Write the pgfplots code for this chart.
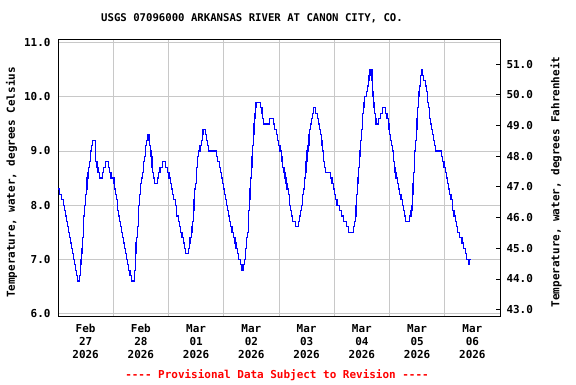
\documentclass[border=0pt]{standalone}
\usepackage{pgfplots}
\pgfplotsset{compat=1.18}
\usepackage{pgfplotstable}
\usepackage{fontspec}
\setmainfont{DejaVu Sans Mono}
\setmonofont{DejaVu Sans Mono}
\definecolor{usgsblue}{RGB}{0,0,255}
\definecolor{usgsred}{RGB}{255,0,0}
\definecolor{gridgray}{RGB}{200,200,200}
\pgfplotstableread{
h t
0 8.3
0.6 8.2
1.5 8.1
2.3 8.0
2.9 7.9
3.2 7.8
3.6 7.7
4.0 7.6
4.6 7.5
5.0 7.4
5.5 7.3
6.0 7.2
6.3 7.1
6.8 7.0
7.2 6.9
7.6 6.8
8.0 6.7
8.3 6.6
9.3 6.7
9.6 6.8
9.8 6.9
10.0 7.0
10.2 7.1
10.4 7.2
10.6 7.3
10.8 7.4
11.0 7.6
11.2 7.8
11.5 8.0
11.9 8.2
12.3 8.3
12.6 8.5
13.0 8.6
13.4 8.7
13.8 8.8
14.0 8.9
14.2 9.0
14.6 9.1
15.0 9.2
16.4 8.8
16.9 8.7
17.4 8.6
17.9 8.5
19.3 8.6
19.9 8.7
20.6 8.8
21.9 8.7
22.4 8.6
23.0 8.5
24.3 8.4
24.6 8.3
25.0 8.2
25.3 8.1
25.7 8.0
26.0 7.9
26.4 7.8
26.7 7.7
27.2 7.6
27.7 7.5
28.1 7.4
28.5 7.3
28.8 7.2
29.3 7.1
29.8 7.0
30.2 6.9
30.7 6.8
31.3 6.7
32.0 6.6
33.1 6.7
33.3 6.8
33.5 6.9
33.7 7.1
33.9 7.3
34.1 7.4
34.4 7.6
34.8 7.8
35.1 8.0
35.4 8.2
35.8 8.4
36.3 8.5
36.7 8.6
37.0 8.8
37.5 8.9
37.9 9.1
38.4 9.2
39.0 9.3
39.5 9.2
39.7 9.1
40.1 9.0
40.4 8.9
40.8 8.7
41.2 8.6
41.5 8.5
41.8 8.4
43.1 8.5
43.7 8.6
44.3 8.7
45.3 8.8
46.7 8.7
47.7 8.6
48.2 8.5
48.7 8.4
49.2 8.3
49.7 8.2
50.2 8.1
50.9 8.0
51.3 7.9
51.6 7.8
52.3 7.7
52.7 7.6
53.3 7.5
53.9 7.4
54.5 7.3
55.0 7.2
55.5 7.1
56.7 7.2
57.0 7.3
57.3 7.4
58.0 7.5
58.2 7.6
58.5 7.7
58.8 7.9
59.1 8.1
59.4 8.3
59.7 8.4
60.0 8.5
60.3 8.7
60.7 8.9
61.1 9.0
61.7 9.1
62.3 9.2
62.6 9.3
63.0 9.4
64.2 9.3
64.5 9.2
64.9 9.1
65.3 9.0
68.8 8.9
69.4 8.8
70.0 8.7
70.6 8.6
71.0 8.5
71.3 8.4
71.8 8.3
72.3 8.2
72.7 8.1
73.2 8.0
73.6 7.9
74.0 7.8
74.6 7.7
75.1 7.6
75.6 7.5
76.3 7.4
76.9 7.3
77.3 7.2
77.9 7.1
78.5 7.0
79.1 6.9
79.8 6.8
80.4 6.9
81.0 7.0
81.3 7.1
81.6 7.2
82.0 7.4
82.3 7.5
82.6 7.7
82.8 7.9
83.1 8.1
83.4 8.3
83.7 8.5
84.0 8.7
84.3 8.9
84.6 9.1
84.9 9.3
85.1 9.5
85.4 9.6
85.6 9.7
85.8 9.8
86.0 9.9
88.1 9.8
88.6 9.7
88.9 9.6
89.4 9.5
91.9 9.6
93.5 9.5
94.1 9.4
94.8 9.3
95.4 9.2
95.9 9.1
96.4 9.0
97.0 8.9
97.3 8.8
97.6 8.7
98.2 8.6
98.6 8.5
99.0 8.4
99.5 8.3
100.1 8.2
100.4 8.1
100.7 8.0
101.1 7.9
101.5 7.8
102.0 7.7
103.0 7.6
104.4 7.7
104.8 7.8
105.3 7.9
105.8 8.0
106.2 8.2
106.6 8.3
107.0 8.5
107.4 8.6
107.7 8.8
108.2 9.0
108.6 9.1
109.0 9.3
109.4 9.4
109.7 9.5
110.0 9.6
110.5 9.7
110.9 9.8
112.0 9.7
112.8 9.6
113.3 9.5
113.7 9.4
114.0 9.3
114.3 9.2
114.7 9.1
115.0 9.0
115.2 8.9
115.4 8.8
115.8 8.7
116.3 8.6
118.5 8.5
119.0 8.4
119.5 8.3
120.1 8.2
120.7 8.1
121.2 8.0
122.2 7.9
123.0 7.8
124.1 7.7
125.2 7.6
126.3 7.5
128.4 7.6
128.8 7.7
129.1 7.8
129.4 8.0
129.7 8.2
130.0 8.4
130.3 8.5
130.6 8.7
130.9 8.9
131.2 9.0
131.5 9.2
131.8 9.4
132.1 9.5
132.4 9.7
132.7 9.8
132.9 9.9
133.3 10.0
134.0 10.1
134.3 10.2
134.7 10.3
135.1 10.4
135.5 10.5
136.4 10.3
136.6 10.1
136.8 10.0
137.0 9.9
137.3 9.8
137.6 9.7
137.9 9.6
138.1 9.5
139.1 9.6
140.2 9.7
140.8 9.8
142.3 9.7
142.9 9.6
143.4 9.5
143.8 9.4
144.1 9.3
144.4 9.2
144.7 9.1
145.2 9.0
145.6 8.9
145.9 8.8
146.1 8.7
146.4 8.6
146.8 8.5
147.3 8.4
148.0 8.3
148.4 8.2
149.0 8.1
149.5 8.0
150.0 7.9
150.4 7.8
151.0 7.7
152.8 7.8
153.3 7.9
153.8 8.0
154.0 8.2
154.2 8.4
154.4 8.6
154.7 8.8
155.0 9.0
155.3 9.2
155.6 9.4
155.9 9.6
156.1 9.8
156.5 10.0
156.8 10.1
157.1 10.2
157.3 10.3
157.5 10.4
157.9 10.5
158.2 10.4
158.9 10.3
159.5 10.2
160.0 10.1
160.4 10.0
160.6 9.9
160.9 9.8
161.2 9.7
161.5 9.6
161.8 9.5
162.1 9.4
162.5 9.3
163.0 9.2
163.6 9.1
164.1 9.0
166.6 8.9
167.1 8.8
167.7 8.7
168.3 8.6
168.8 8.5
169.3 8.4
169.7 8.3
170.2 8.2
170.7 8.1
171.2 8.0
171.5 7.9
172.0 7.8
172.6 7.7
173.0 7.6
173.6 7.5
174.5 7.4
175.5 7.3
176.3 7.2
176.9 7.1
177.6 7.0
178.4 6.9
178.8 7.0
179.1 7.0
}\tempdata
\begin{document}
\begin{tikzpicture}[x=1bp,y=1bp]
\useasboundingbox (0,0) rectangle (576,384);
\begin{axis}[
  at={(58bp,68bp)}, anchor=south west,
  scale only axis, width=442bp, height=276.5bp,
  xmin=0, xmax=192, ymin=5.952, ymax=11.06,
  axis line style={black, line width=0.9bp},
  xtick={12,36,60,84,108,132,156,180},
  xticklabels={{Feb\\27\\2026},{Feb\\28\\2026},{Mar\\01\\2026},{Mar\\02\\2026},{Mar\\03\\2026},{Mar\\04\\2026},{Mar\\05\\2026},{Mar\\06\\2026}},
  minor xtick={24,48,72,96,120,144,168},
  xminorgrids=true, xmajorgrids=false, ymajorgrids=true,
  grid style={gridgray, line width=0.8bp},
  minor grid style={gridgray, line width=0.8bp},
  major tick length=0pt, minor tick length=0pt,
  ytick={6,7,8,9,10,11},
  /pgf/number format/fixed, /pgf/number format/fixed zerofill, /pgf/number format/precision=1,
  /pgf/number format/assume math mode=true,
  yticklabel style={font=\fontsize{11}{13}\selectfont\bfseries, xshift=-4bp},
  xticklabel style={font=\fontsize{11}{13}\selectfont\bfseries, align=center, yshift=-5bp},
  clip=true,
]
\addplot[const plot, color=usgsblue, line width=1.2bp] table[x=h, y=t] {\tempdata};
\end{axis}
\begin{axis}[
  at={(58bp,68bp)}, anchor=south west,
  scale only axis, width=442bp, height=276.5bp,
  xmin=0, xmax=192, ymin=42.795, ymax=51.80,
  hide x axis, axis y line*=right,
  axis line style={black, line width=0.9bp},
  ytick={43,44,45,46,47,48,49,50,51},
  tick align=inside, major tick length=4bp,
  tick style={black, line width=0.8bp},
  /pgf/number format/fixed, /pgf/number format/fixed zerofill, /pgf/number format/precision=1,
  /pgf/number format/assume math mode=true,
  yticklabel style={font=\fontsize{11}{13}\selectfont\bfseries, xshift=3bp},
]
\addplot[draw=none] coordinates {(0,43) (192,51)};
\end{axis}
\node[font=\fontsize{10.7}{13}\selectfont\bfseries] at (252,366) {USGS 07096000 ARKANSAS RIVER AT CANON CITY, CO.};
\node[font=\fontsize{11}{13}\selectfont\bfseries, rotate=90] at (11.5,201.5) {Temperature, water, degrees Celsius};
\node[font=\fontsize{11}{13}\selectfont\bfseries, rotate=90] at (556,202) {Temperature, water, degrees Fahrenheit};
\node[font=\fontsize{11}{13}\selectfont\ttfamily\bfseries, text=usgsred] at (277,9) {---- Provisional Data Subject to Revision ----};
\end{tikzpicture}
\end{document}
